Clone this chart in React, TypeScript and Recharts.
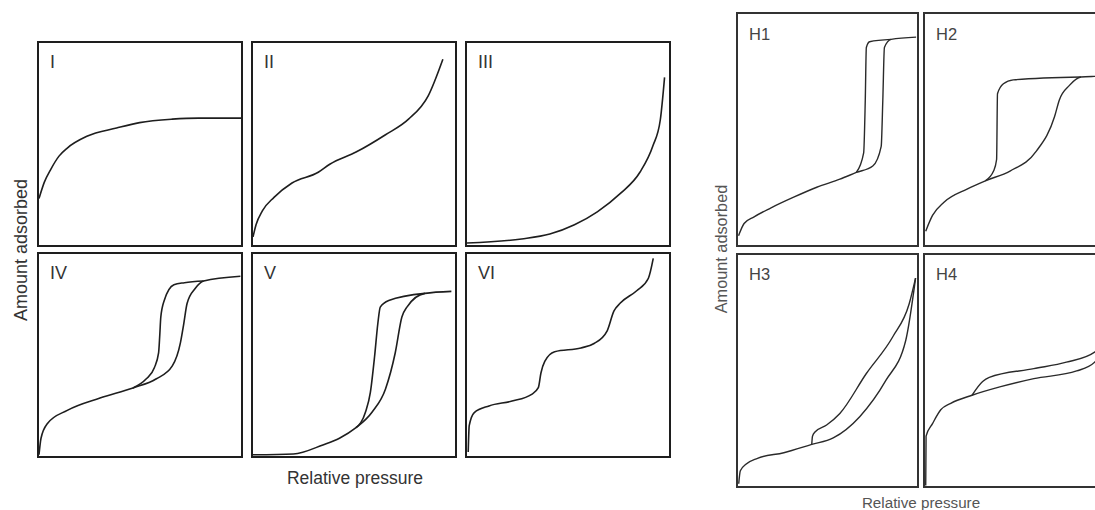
import React from "react";
import { LineChart, Line, XAxis, YAxis } from "recharts";

type P = { x: number; y: number };

// Type I–VI isotherms (normalized relative pressure x, amount adsorbed y)
const typeI: P[] = [
  { x: 0, y: 0.23 }, { x: 0.026, y: 0.31 }, { x: 0.059, y: 0.376 }, { x: 0.099, y: 0.44 },
  { x: 0.14, y: 0.48 }, { x: 0.237, y: 0.538 }, { x: 0.384, y: 0.579 }, { x: 0.498, y: 0.606 },
  { x: 0.66, y: 0.623 }, { x: 0.79, y: 0.628 }, { x: 1, y: 0.628 },
];
const typeII: P[] = [
  { x: 0, y: 0.04 }, { x: 0.015, y: 0.1 }, { x: 0.047, y: 0.17 }, { x: 0.104, y: 0.236 },
  { x: 0.193, y: 0.307 }, { x: 0.323, y: 0.36 }, { x: 0.38, y: 0.4 }, { x: 0.51, y: 0.46 },
  { x: 0.656, y: 0.546 }, { x: 0.77, y: 0.623 }, { x: 0.868, y: 0.74 }, { x: 0.94, y: 0.92 },
];
const typeIII: P[] = [
  { x: 0, y: 0.01 }, { x: 0.27, y: 0.03 }, { x: 0.41, y: 0.054 }, { x: 0.532, y: 0.1 },
  { x: 0.645, y: 0.164 }, { x: 0.758, y: 0.254 }, { x: 0.856, y: 0.36 }, { x: 0.92, y: 0.49 },
  { x: 0.957, y: 0.62 }, { x: 0.978, y: 0.83 },
];
const typeIVads: P[] = [
  { x: 0, y: 0.006 }, { x: 0.01, y: 0.088 }, { x: 0.042, y: 0.161 }, { x: 0.14, y: 0.226 },
  { x: 0.302, y: 0.287 }, { x: 0.465, y: 0.337 }, { x: 0.579, y: 0.381 }, { x: 0.66, y: 0.446 },
  { x: 0.7, y: 0.56 }, { x: 0.717, y: 0.657 }, { x: 0.733, y: 0.755 }, { x: 0.774, y: 0.83 },
  { x: 0.815, y: 0.866 }, { x: 0.997, y: 0.89 },
];
const typeIVdes: P[] = [
  { x: 0.465, y: 0.337 }, { x: 0.53, y: 0.381 }, { x: 0.571, y: 0.437 }, { x: 0.592, y: 0.51 },
  { x: 0.598, y: 0.6 }, { x: 0.603, y: 0.688 }, { x: 0.62, y: 0.77 }, { x: 0.668, y: 0.848 },
  { x: 0.72, y: 0.858 }, { x: 0.815, y: 0.866 },
];
const typeVads: P[] = [
  { x: 0, y: 0.006 }, { x: 0.2, y: 0.01 }, { x: 0.346, y: 0.055 }, { x: 0.428, y: 0.088 },
  { x: 0.51, y: 0.14 }, { x: 0.59, y: 0.218 }, { x: 0.656, y: 0.332 }, { x: 0.704, y: 0.51 },
  { x: 0.737, y: 0.688 }, { x: 0.762, y: 0.737 }, { x: 0.851, y: 0.805 }, { x: 0.982, y: 0.815 },
];
const typeVdes: P[] = [
  { x: 0.51, y: 0.14 }, { x: 0.557, y: 0.218 }, { x: 0.581, y: 0.315 }, { x: 0.602, y: 0.494 },
  { x: 0.618, y: 0.656 }, { x: 0.63, y: 0.737 }, { x: 0.672, y: 0.77 }, { x: 0.851, y: 0.805 },
];
const typeVI: P[] = [
  { x: 0.006, y: 0.02 }, { x: 0.011, y: 0.15 }, { x: 0.036, y: 0.215 }, { x: 0.109, y: 0.248 },
  { x: 0.223, y: 0.272 }, { x: 0.32, y: 0.305 }, { x: 0.353, y: 0.338 }, { x: 0.366, y: 0.411 },
  { x: 0.385, y: 0.468 }, { x: 0.434, y: 0.516 }, { x: 0.564, y: 0.535 }, { x: 0.629, y: 0.557 },
  { x: 0.694, y: 0.62 }, { x: 0.727, y: 0.717 }, { x: 0.759, y: 0.757 }, { x: 0.84, y: 0.818 },
  { x: 0.898, y: 0.88 }, { x: 0.922, y: 0.978 },
];

// Hysteresis loops H1–H4
const h1ads: P[] = [
  { x: 0.003, y: 0.04 }, { x: 0.034, y: 0.093 }, { x: 0.09, y: 0.122 }, { x: 0.182, y: 0.16 },
  { x: 0.311, y: 0.207 }, { x: 0.44, y: 0.25 }, { x: 0.569, y: 0.285 }, { x: 0.661, y: 0.314 },
  { x: 0.753, y: 0.342 }, { x: 0.8, y: 0.427 }, { x: 0.809, y: 0.627 }, { x: 0.818, y: 0.855 },
  { x: 0.855, y: 0.89 }, { x: 0.995, y: 0.9 },
];
const h1des: P[] = [
  { x: 0.661, y: 0.314 }, { x: 0.702, y: 0.399 }, { x: 0.711, y: 0.627 }, { x: 0.717, y: 0.855 },
  { x: 0.735, y: 0.88 }, { x: 0.855, y: 0.89 },
];
const h2ads: P[] = [
  { x: 0.004, y: 0.06 }, { x: 0.042, y: 0.128 }, { x: 0.106, y: 0.185 }, { x: 0.235, y: 0.242 },
  { x: 0.337, y: 0.278 }, { x: 0.475, y: 0.32 }, { x: 0.622, y: 0.406 }, { x: 0.724, y: 0.556 },
  { x: 0.75, y: 0.627 }, { x: 0.807, y: 0.691 }, { x: 0.871, y: 0.727 }, { x: 0.945, y: 0.73 },
  { x: 1, y: 0.731 },
];
const h2des: P[] = [
  { x: 0.337, y: 0.278 }, { x: 0.383, y: 0.32 }, { x: 0.4, y: 0.37 }, { x: 0.405, y: 0.655 },
  { x: 0.438, y: 0.698 }, { x: 0.493, y: 0.715 }, { x: 0.871, y: 0.727 },
];
const h3ads: P[] = [
  { x: 0.004, y: 0.01 }, { x: 0.013, y: 0.066 }, { x: 0.044, y: 0.094 }, { x: 0.109, y: 0.12 },
  { x: 0.256, y: 0.144 }, { x: 0.412, y: 0.18 }, { x: 0.532, y: 0.208 }, { x: 0.68, y: 0.3 },
  { x: 0.826, y: 0.457 }, { x: 0.937, y: 0.63 }, { x: 0.992, y: 0.9 },
];
const h3des: P[] = [
  { x: 0.412, y: 0.18 }, { x: 0.416, y: 0.215 }, { x: 0.43, y: 0.234 }, { x: 0.495, y: 0.264 },
  { x: 0.569, y: 0.314 }, { x: 0.717, y: 0.487 }, { x: 0.864, y: 0.645 }, { x: 0.956, y: 0.788 },
  { x: 0.992, y: 0.9 },
];
const h4ads: P[] = [
  { x: 0.004, y: 0.002 }, { x: 0.006, y: 0.216 }, { x: 0.042, y: 0.27 }, { x: 0.088, y: 0.33 },
  { x: 0.144, y: 0.358 }, { x: 0.263, y: 0.393 }, { x: 0.423, y: 0.43 }, { x: 0.608, y: 0.465 },
  { x: 0.847, y: 0.498 }, { x: 0.948, y: 0.536 }, { x: 0.995, y: 0.61 },
];
const h4des: P[] = [
  { x: 0.263, y: 0.393 }, { x: 0.322, y: 0.452 }, { x: 0.359, y: 0.47 }, { x: 0.608, y: 0.508 },
  { x: 0.79, y: 0.536 }, { x: 0.948, y: 0.58 }, { x: 0.995, y: 0.61 },
];

const leftLabels = ["I", "II", "III", "IV", "V", "VI"];
const rightLabels = ["H1", "H2", "H3", "H4"];
const axisTitleY = "Amount adsorbed";
const axisTitleX = "Relative pressure";

type PanelProps = {
  left: number;
  top: number;
  w: number;
  h: number;
  series: P[][];
  stroke: string;
  sw: number;
  border: string;
};

function Panel({ left, top, w, h, series, stroke, sw, border }: PanelProps) {
  const bw = 2;
  return (
    <div
      style={{
        position: "absolute",
        left,
        top,
        width: w,
        height: h,
        boxSizing: "border-box",
        border: `${bw}px solid ${border}`,
        background: "#fff",
      }}
    >
      <LineChart
        width={w - 2 * bw}
        height={h - 2 * bw}
        margin={{ top: 0, right: 0, bottom: 0, left: 0 }}
      >
        <XAxis type="number" dataKey="x" domain={[0, 1]} hide />
        <YAxis type="number" dataKey="y" domain={[0, 1]} hide />
        {series.map((d, i) => (
          <Line
            key={i}
            data={d}
            dataKey="y"
            type="monotone"
            stroke={stroke}
            strokeWidth={sw}
            dot={false}
            activeDot={false}
            isAnimationActive={false}
          />
        ))}
      </LineChart>
    </div>
  );
}

export default function App() {
  const leftSeries = [
    [typeI],
    [typeII],
    [typeIII],
    [typeIVads, typeIVdes],
    [typeVads, typeVdes],
    [typeVI],
  ];
  const rightSeries = [
    [h1ads, h1des],
    [h2ads, h2des],
    [h3ads, h3des],
    [h4ads, h4des],
  ];
  const leftX = [37, 251, 465];
  const leftY = [41, 252];
  const rightX = [736, 923];
  const rightY = [12, 253];
  const font = "'Liberation Sans', Arial, sans-serif";

  return (
    <div
      style={{
        position: "absolute",
        left: 0,
        top: 0,
        width: 1095,
        height: 510,
        overflow: "hidden",
        background: "#fff",
      }}
    >
      {leftSeries.map((s, i) => (
        <Panel
          key={"l" + i}
          left={leftX[i % 3]}
          top={leftY[Math.floor(i / 3)]}
          w={206}
          h={206}
          series={s}
          stroke="#1e1e1e"
          sw={1.6}
          border="#1e1e1e"
        />
      ))}
      {rightSeries.map((s, i) => (
        <Panel
          key={"r" + i}
          left={rightX[i % 2]}
          top={rightY[Math.floor(i / 2)]}
          w={183}
          h={235}
          series={s}
          stroke="#2a2a2a"
          sw={1.4}
          border="#333"
        />
      ))}
      <svg
        width={1095}
        height={510}
        style={{ position: "absolute", left: 0, top: 0, pointerEvents: "none" }}
      >
        {leftLabels.map((t, i) => (
          <text
            key={t}
            x={[50, 264, 478][i % 3]}
            y={[68, 279][Math.floor(i / 3)]}
            fontFamily={font}
            fontSize={18}
            fill="#333"
          >
            {t}
          </text>
        ))}
        {rightLabels.map((t, i) => (
          <text
            key={t}
            x={[749, 936][i % 2]}
            y={[39.5, 280][Math.floor(i / 2)]}
            fontFamily={font}
            fontSize={16.5}
            fill="#444"
          >
            {t}
          </text>
        ))}
        <text
          x={26.5}
          y={250}
          transform="rotate(-90, 26.5, 250)"
          textAnchor="middle"
          fontFamily={font}
          fontSize={18}
          fill="#333"
        >
          {axisTitleY}
        </text>
        <text x={355} y={484} textAnchor="middle" fontFamily={font} fontSize={17.5} fill="#333">
          {axisTitleX}
        </text>
        <text
          x={726.5}
          y={249}
          transform="rotate(-90, 726.5, 249)"
          textAnchor="middle"
          fontFamily={font}
          fontSize={16.3}
          fill="#555"
        >
          {axisTitleY}
        </text>
        <text x={921} y={507.5} textAnchor="middle" fontFamily={font} fontSize={15.2} fill="#555">
          {axisTitleX}
        </text>
      </svg>
    </div>
  );
}
